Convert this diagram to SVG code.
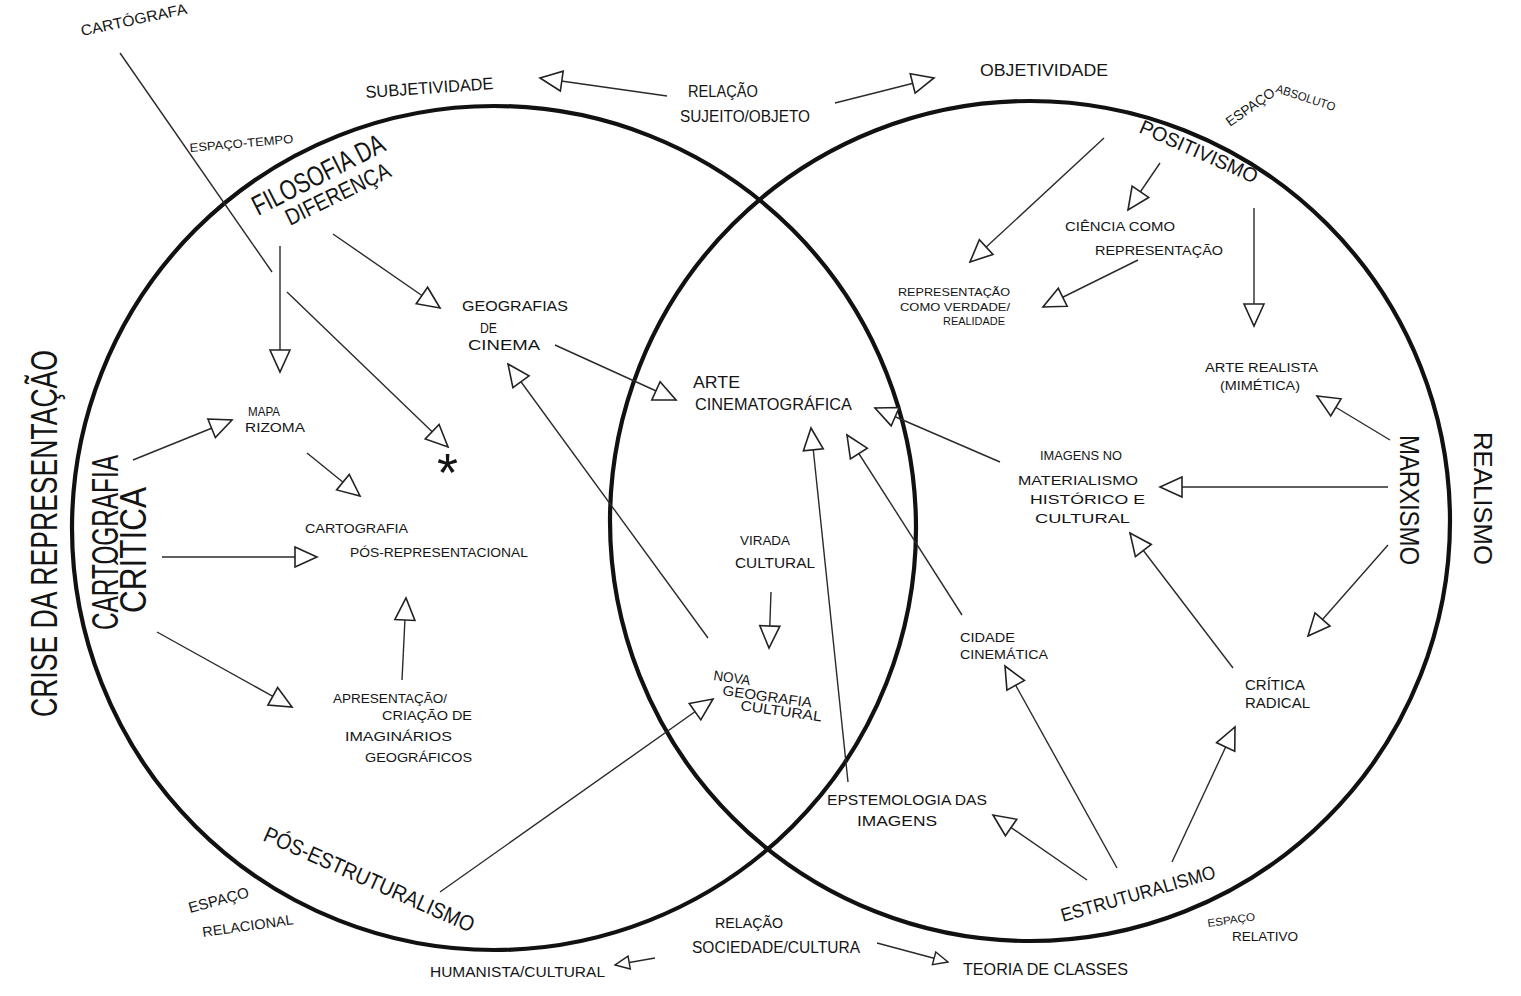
<svg xmlns="http://www.w3.org/2000/svg" width="1521" height="996" viewBox="0 0 1521 996">
  <style>
    .t { font-family: "Liberation Sans", "DejaVu Sans", sans-serif; fill: #141414; }
    .ring { fill: none; stroke: #111; stroke-width: 4.2; }
    .ln { fill: none; stroke: #2a2a2a; stroke-width: 1.4; }
    .arr { marker-end: url(#tri); }
    .arrS { marker-end: url(#triS); }
  </style>
  <defs>
    <!-- open triangular arrowhead, tip at line end -->
    <marker id="tri" viewBox="0 0 26 24" markerUnits="userSpaceOnUse" markerWidth="26" markerHeight="24" refX="24" refY="12" orient="auto">
      <path d="M2,2 L24,12 L2,22 Z" fill="#fff" stroke="#222" stroke-width="1.6" stroke-linejoin="miter"/>
    </marker>
    <marker id="triS" viewBox="0 0 26 24" markerUnits="userSpaceOnUse" markerWidth="17" markerHeight="16" refX="24" refY="12" orient="auto">
      <path d="M2,2 L24,12 L2,22 Z" fill="#fff" stroke="#222" stroke-width="2.2"/>
    </marker>
  </defs>

  <rect width="1521" height="996" fill="#fff"/>

  <!-- two overlapping fields -->
  <g id="fields">
    <circle class="ring" cx="494" cy="528" r="422"/>
    <circle class="ring" cx="1030" cy="521" r="420"/>
  </g>

  <!-- connectors -->
  <g id="connectors">
    <line class="ln" x1="120" y1="53" x2="272" y2="272"/>
    <line class="ln arr" x1="287" y1="292" x2="448" y2="447"/>
    <line class="ln arr" x1="280" y1="246" x2="280" y2="372"/>
    <line class="ln arr" x1="333" y1="234" x2="440" y2="308"/>
    <line class="ln arr" x1="667" y1="96" x2="540" y2="78"/>
    <line class="ln arr" x1="835" y1="103" x2="934" y2="78"/>
    <line class="ln arr" x1="1104" y1="138" x2="970" y2="262"/>
    <line class="ln arr" x1="1160" y1="163" x2="1128" y2="210"/>
    <line class="ln arr" x1="1138" y1="260" x2="1043" y2="307"/>
    <line class="ln arr" x1="1254" y1="208" x2="1254" y2="326"/>
    <line class="ln arr" x1="1390" y1="440" x2="1317" y2="396"/>
    <line class="ln arr" x1="1388" y1="487" x2="1160" y2="487"/>
    <line class="ln arr" x1="1388" y1="545" x2="1308" y2="636"/>
    <line class="ln arr" x1="1233" y1="668" x2="1130" y2="533"/>
    <line class="ln arr" x1="1172" y1="862" x2="1235" y2="727"/>
    <line class="ln arr" x1="1117" y1="868" x2="1005" y2="666"/>
    <line class="ln arr" x1="1087" y1="880" x2="993" y2="815"/>
    <line class="ln arr" x1="962" y1="615" x2="847" y2="435"/>
    <line class="ln arr" x1="848" y1="782" x2="811" y2="428"/>
    <line class="ln arr" x1="1000" y1="462" x2="875" y2="408"/>
    <line class="ln arr" x1="555" y1="345" x2="676" y2="400"/>
    <line class="ln arr" x1="708" y1="638" x2="508" y2="364"/>
    <line class="ln arr" x1="771" y1="592" x2="769" y2="648"/>
    <line class="ln arr" x1="440" y1="892" x2="713" y2="699"/>
    <line class="ln arr" x1="133" y1="460" x2="232" y2="420"/>
    <line class="ln arr" x1="162" y1="557" x2="317" y2="557"/>
    <line class="ln arr" x1="157" y1="632" x2="292" y2="707"/>
    <line class="ln arr" x1="307" y1="453" x2="360" y2="496"/>
    <line class="ln arr" x1="402" y1="680" x2="406" y2="598"/>
    <line class="ln arrS" x1="655" y1="958" x2="615" y2="965"/>
    <line class="ln arrS" x1="877" y1="943" x2="948" y2="962"/>
  </g>

  <!-- outer labels -->
  <g id="crise">
    <text class="t" transform="translate(57,717) rotate(-90)" font-size="36" textLength="367" lengthAdjust="spacingAndGlyphs">CRISE DA REPRESENTAÇÃO</text>
  </g>
  <g id="realismo">
    <text class="t" transform="translate(1474,432) rotate(90)" font-size="26" textLength="133" lengthAdjust="spacingAndGlyphs">REALISMO</text>
  </g>
  <g id="cartografa">
    <text class="t" transform="translate(82,36) rotate(-12)" font-size="15" textLength="108" lengthAdjust="spacingAndGlyphs">CARTÓGRAFA</text>
  </g>
  <g id="espaco-tempo">
    <text class="t" transform="translate(190,152) rotate(-5)" font-size="12" textLength="104" lengthAdjust="spacingAndGlyphs">ESPAÇO-TEMPO</text>
  </g>
  <g id="subjetividade">
    <text class="t" transform="translate(366,98) rotate(-4)" font-size="17" textLength="128" lengthAdjust="spacingAndGlyphs">SUBJETIVIDADE</text>
  </g>
  <g id="relacao-sujeito">
    <text class="t" x="688" y="97" font-size="16" textLength="70" lengthAdjust="spacingAndGlyphs">RELAÇÃO</text>
    <text class="t" x="680" y="122" font-size="16" textLength="130" lengthAdjust="spacingAndGlyphs">SUJEITO/OBJETO</text>
  </g>
  <g id="objetividade">
    <text class="t" x="980" y="76" font-size="17" textLength="128" lengthAdjust="spacingAndGlyphs">OBJETIVIDADE</text>
  </g>
  <g id="espaco-absoluto">
    <text class="t" transform="translate(1230,127) rotate(-35)" font-size="14" textLength="56" lengthAdjust="spacingAndGlyphs">ESPAÇO</text>
    <text class="t" transform="translate(1275,92) rotate(18)" font-size="12" textLength="62" lengthAdjust="spacingAndGlyphs">ABSOLUTO</text>
  </g>
  <g id="espaco-relacional">
    <text class="t" transform="translate(190,913) rotate(-15)" font-size="15" textLength="62" lengthAdjust="spacingAndGlyphs">ESPAÇO</text>
    <text class="t" transform="translate(203,937) rotate(-8)" font-size="14" textLength="92" lengthAdjust="spacingAndGlyphs">RELACIONAL</text>
  </g>
  <g id="humanista">
    <text class="t" x="430" y="977" font-size="15" textLength="175" lengthAdjust="spacingAndGlyphs">HUMANISTA/CULTURAL</text>
  </g>
  <g id="relacao-sociedade">
    <text class="t" x="715" y="928" font-size="15" textLength="68" lengthAdjust="spacingAndGlyphs">RELAÇÃO</text>
    <text class="t" x="692" y="953" font-size="16" textLength="168" lengthAdjust="spacingAndGlyphs">SOCIEDADE/CULTURA</text>
  </g>
  <g id="teoria-classes">
    <text class="t" x="963" y="975" font-size="17" textLength="165" lengthAdjust="spacingAndGlyphs">TEORIA DE CLASSES</text>
  </g>
  <g id="espaco-relativo">
    <text class="t" transform="translate(1208,927) rotate(-8)" font-size="11" textLength="48" lengthAdjust="spacingAndGlyphs">ESPAÇO</text>
    <text class="t" x="1232" y="941" font-size="12" textLength="66" lengthAdjust="spacingAndGlyphs">RELATIVO</text>
  </g>

  <!-- left field -->
  <g id="filosofia">
    <text class="t" transform="translate(258,216) rotate(-27)" font-size="28" textLength="145" lengthAdjust="spacingAndGlyphs">FILOSOFIA DA</text>
    <text class="t" transform="translate(290,226) rotate(-26)" font-size="23" textLength="114" lengthAdjust="spacingAndGlyphs">DIFERENÇA</text>
  </g>
  <g id="cartografia-critica">
    <text class="t" transform="translate(118,630) rotate(-90)" font-size="36" textLength="175" lengthAdjust="spacingAndGlyphs">CARTOGRAFIA</text>
    <text class="t" transform="translate(146,613) rotate(-90)" font-size="36" textLength="126" lengthAdjust="spacingAndGlyphs">CRÍTICA</text>
  </g>
  <g id="mapa-rizoma">
    <text class="t" x="248" y="416" font-size="12" textLength="32" lengthAdjust="spacingAndGlyphs">MAPA</text>
    <text class="t" x="245" y="432" font-size="12" textLength="60" lengthAdjust="spacingAndGlyphs">RIZOMA</text>
  </g>
  <g id="asterisco">
    <text class="t" x="437" y="491" font-size="54">*</text>
  </g>
  <g id="pos-representacional">
    <text class="t" x="305" y="533" font-size="13" textLength="103" lengthAdjust="spacingAndGlyphs">CARTOGRAFIA</text>
    <text class="t" x="350" y="557" font-size="13" textLength="178" lengthAdjust="spacingAndGlyphs">PÓS-REPRESENTACIONAL</text>
  </g>
  <g id="apresentacao">
    <text class="t" x="333" y="703" font-size="12" textLength="114" lengthAdjust="spacingAndGlyphs">APRESENTAÇÃO/</text>
    <text class="t" x="382" y="720" font-size="13" textLength="90" lengthAdjust="spacingAndGlyphs">CRIAÇÃO DE</text>
    <text class="t" x="345" y="741" font-size="13" textLength="107" lengthAdjust="spacingAndGlyphs">IMAGINÁRIOS</text>
    <text class="t" x="365" y="762" font-size="13" textLength="107" lengthAdjust="spacingAndGlyphs">GEOGRÁFICOS</text>
  </g>
  <g id="geografias-cinema">
    <text class="t" x="462" y="311" font-size="14" textLength="106" lengthAdjust="spacingAndGlyphs">GEOGRAFIAS</text>
    <text class="t" x="480" y="333" font-size="14" textLength="17" lengthAdjust="spacingAndGlyphs">DE</text>
    <text class="t" x="468" y="350" font-size="14" textLength="72" lengthAdjust="spacingAndGlyphs">CINEMA</text>
  </g>
  <g id="pos-estruturalismo">
    <text class="t" transform="translate(262,840) rotate(24)" font-size="22" textLength="228" lengthAdjust="spacingAndGlyphs">PÓS-ESTRUTURALISMO</text>
  </g>

  <!-- overlap -->
  <g id="arte-cinematografica">
    <text class="t" x="693" y="388" font-size="16" textLength="47" lengthAdjust="spacingAndGlyphs">ARTE</text>
    <text class="t" x="695" y="410" font-size="16" textLength="157" lengthAdjust="spacingAndGlyphs">CINEMATOGRÁFICA</text>
  </g>
  <g id="virada-cultural">
    <text class="t" x="740" y="545" font-size="13" textLength="50" lengthAdjust="spacingAndGlyphs">VIRADA</text>
    <text class="t" x="735" y="568" font-size="14" textLength="80" lengthAdjust="spacingAndGlyphs">CULTURAL</text>
  </g>
  <g id="nova-geografia">
    <text class="t" transform="translate(713,680) rotate(8)" font-size="14" textLength="37" lengthAdjust="spacingAndGlyphs">NOVA</text>
    <text class="t" transform="translate(722,695) rotate(8)" font-size="14" textLength="90" lengthAdjust="spacingAndGlyphs">GEOGRAFIA</text>
    <text class="t" transform="translate(740,710) rotate(8)" font-size="14" textLength="82" lengthAdjust="spacingAndGlyphs">CULTURAL</text>
  </g>
  <g id="epistemologia">
    <text class="t" x="827" y="805" font-size="14" textLength="160" lengthAdjust="spacingAndGlyphs">EPSTEMOLOGIA DAS</text>
    <text class="t" x="857" y="826" font-size="14" textLength="80" lengthAdjust="spacingAndGlyphs">IMAGENS</text>
  </g>

  <!-- right field -->
  <g id="positivismo">
    <text class="t" transform="translate(1138,132) rotate(24)" font-size="20" textLength="127" lengthAdjust="spacingAndGlyphs">POSITIVISMO</text>
  </g>
  <g id="ciencia">
    <text class="t" x="1065" y="231" font-size="13" textLength="110" lengthAdjust="spacingAndGlyphs">CIÊNCIA COMO</text>
    <text class="t" x="1095" y="255" font-size="13" textLength="128" lengthAdjust="spacingAndGlyphs">REPRESENTAÇÃO</text>
  </g>
  <g id="representacao-verdade">
    <text class="t" x="898" y="296" font-size="11" textLength="112" lengthAdjust="spacingAndGlyphs">REPRESENTAÇÃO</text>
    <text class="t" x="900" y="311" font-size="11" textLength="110" lengthAdjust="spacingAndGlyphs">COMO VERDADE/</text>
    <text class="t" x="943" y="325" font-size="11" textLength="62" lengthAdjust="spacingAndGlyphs">REALIDADE</text>
  </g>
  <g id="arte-realista">
    <text class="t" x="1205" y="372" font-size="12" textLength="113" lengthAdjust="spacingAndGlyphs">ARTE REALISTA</text>
    <text class="t" x="1220" y="390" font-size="12" textLength="80" lengthAdjust="spacingAndGlyphs">(MIMÉTICA)</text>
  </g>
  <g id="marxismo">
    <text class="t" transform="translate(1400,435) rotate(90)" font-size="28" textLength="130" lengthAdjust="spacingAndGlyphs">MARXISMO</text>
  </g>
  <g id="imagens-materialismo">
    <text class="t" x="1040" y="460" font-size="13" textLength="82" lengthAdjust="spacingAndGlyphs">IMAGENS NO</text>
    <text class="t" x="1018" y="485" font-size="13" textLength="120" lengthAdjust="spacingAndGlyphs">MATERIALISMO</text>
    <text class="t" x="1030" y="504" font-size="13" textLength="115" lengthAdjust="spacingAndGlyphs">HISTÓRICO E</text>
    <text class="t" x="1035" y="523" font-size="13" textLength="95" lengthAdjust="spacingAndGlyphs">CULTURAL</text>
  </g>
  <g id="cidade-cinematica">
    <text class="t" x="960" y="642" font-size="13" textLength="55" lengthAdjust="spacingAndGlyphs">CIDADE</text>
    <text class="t" x="960" y="659" font-size="13" textLength="88" lengthAdjust="spacingAndGlyphs">CINEMÁTICA</text>
  </g>
  <g id="critica-radical">
    <text class="t" x="1245" y="690" font-size="14" textLength="60" lengthAdjust="spacingAndGlyphs">CRÍTICA</text>
    <text class="t" x="1245" y="708" font-size="14" textLength="65" lengthAdjust="spacingAndGlyphs">RADICAL</text>
  </g>
  <g id="estruturalismo">
    <text class="t" transform="translate(1063,922) rotate(-16)" font-size="19" textLength="160" lengthAdjust="spacingAndGlyphs">ESTRUTURALISMO</text>
  </g>
</svg>
